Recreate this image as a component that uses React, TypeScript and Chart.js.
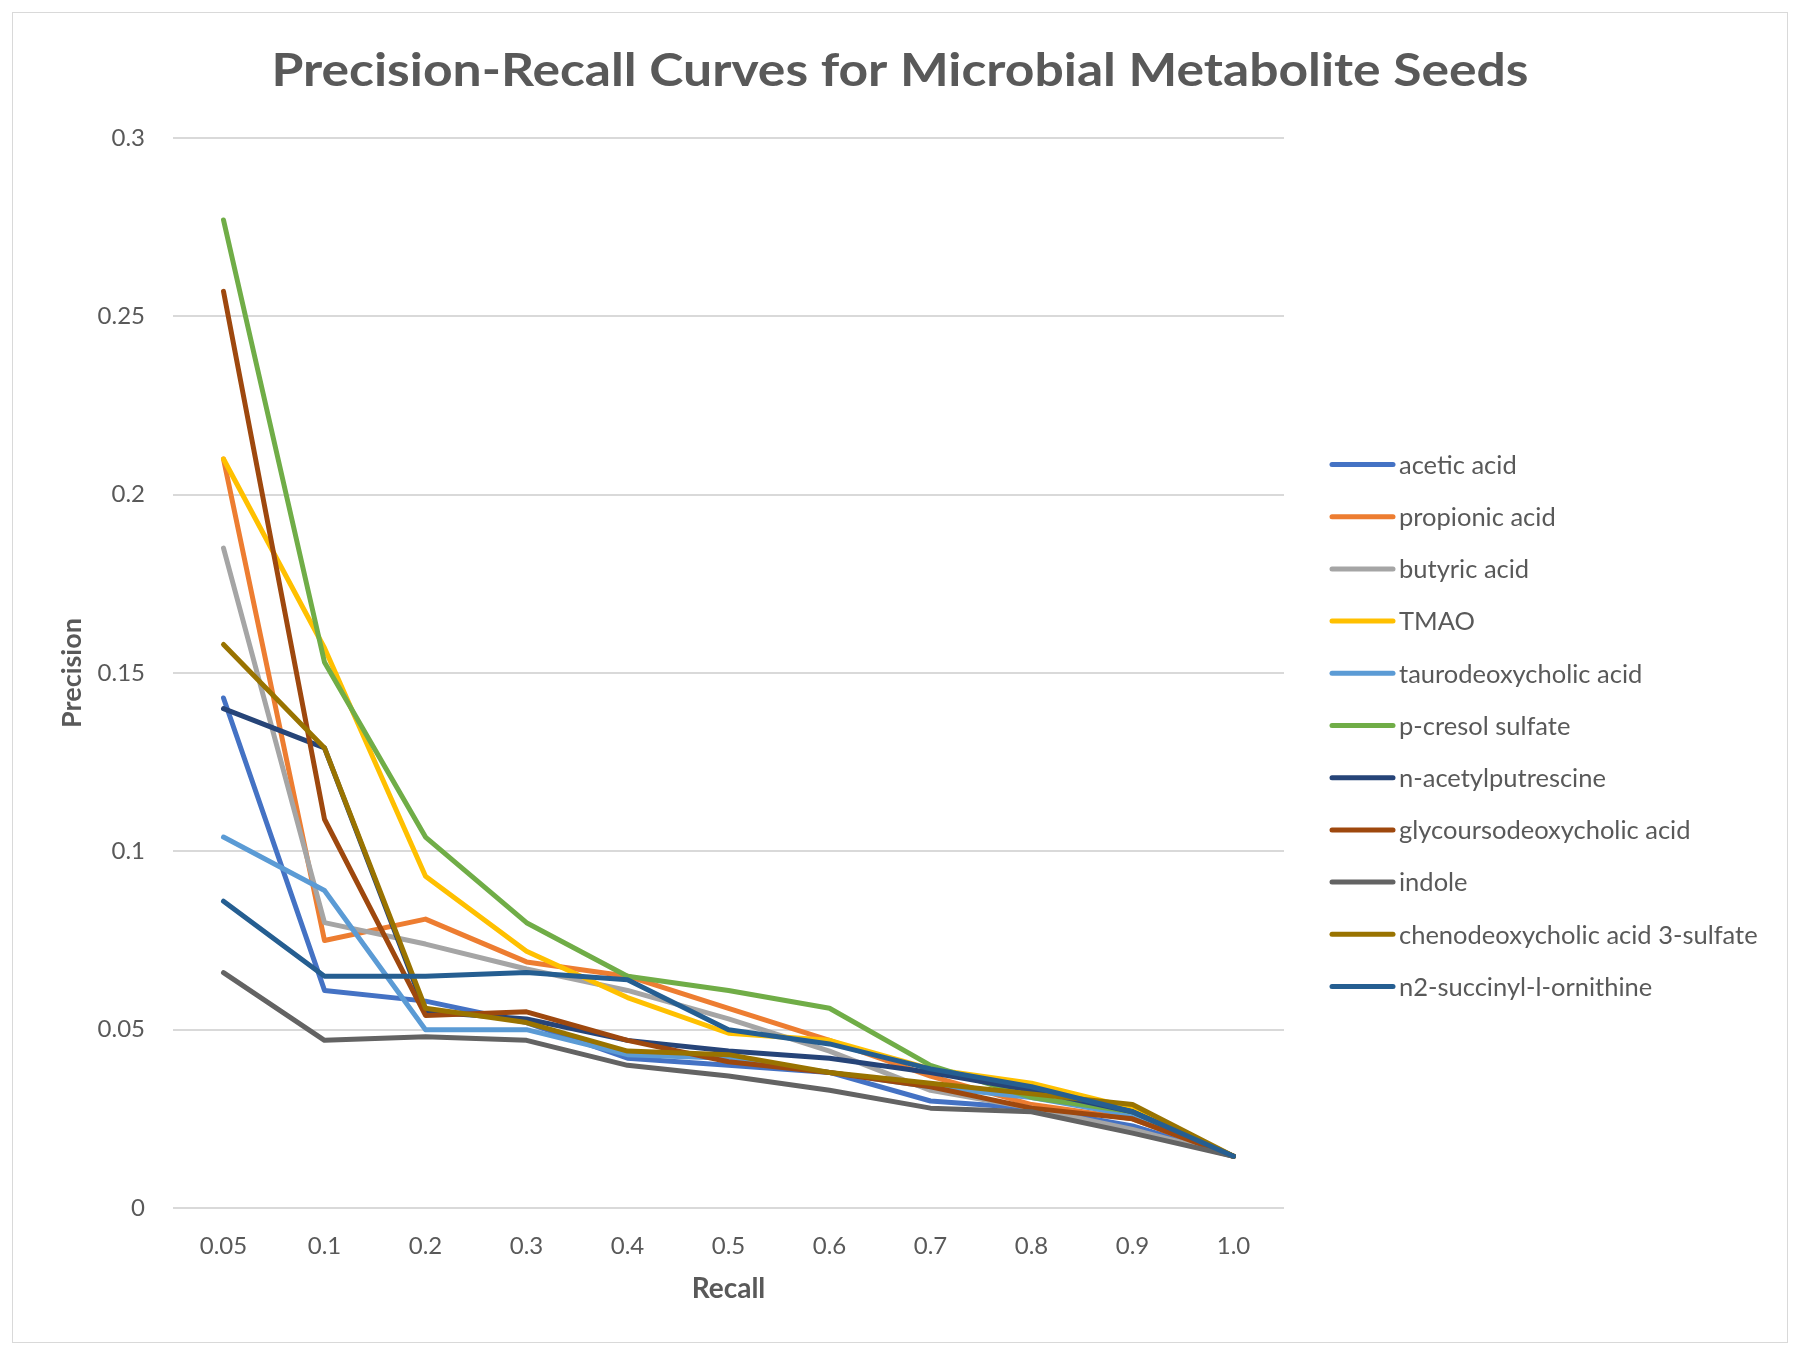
import React, { useEffect, useRef } from "react";
import { Chart, registerables } from "chart.js";

Chart.register(...registerables);

const RECALL_LABELS = ["0.05", "0.1", "0.2", "0.3", "0.4", "0.5", "0.6", "0.7", "0.8", "0.9", "1.0"];

const SERIES_NAMES = [
  "acetic acid",
  "propionic acid",
  "butyric acid",
  "TMAO",
  "taurodeoxycholic acid",
  "p-cresol sulfate",
  "n-acetylputrescine",
  "glycoursodeoxycholic acid",
  "indole",
  "chenodeoxycholic acid 3-sulfate",
  "n2-succinyl-l-ornithine",
];

const SERIES_COLORS = [
  "#4472C4",
  "#ED7D31",
  "#A5A5A5",
  "#FFC000",
  "#5B9BD5",
  "#70AD47",
  "#264478",
  "#9E480E",
  "#636363",
  "#997300",
  "#255E91",
];

const aceticAcid = [0.143, 0.061, 0.058, 0.052, 0.042, 0.040, 0.038, 0.030, 0.028, 0.023, 0.0145];
const propionicAcid = [0.210, 0.075, 0.081, 0.069, 0.065, 0.056, 0.047, 0.037, 0.029, 0.025, 0.0145];
const butyricAcid = [0.185, 0.080, 0.074, 0.067, 0.061, 0.053, 0.044, 0.033, 0.028, 0.022, 0.0145];
const tmao = [0.210, 0.157, 0.093, 0.072, 0.059, 0.049, 0.047, 0.039, 0.035, 0.028, 0.0145];
const taurodeoxycholicAcid = [0.104, 0.089, 0.050, 0.050, 0.043, 0.042, 0.038, 0.034, 0.031, 0.026, 0.0145];
const pCresolSulfate = [0.277, 0.153, 0.104, 0.080, 0.065, 0.061, 0.056, 0.040, 0.031, 0.027, 0.0145];
const nAcetylputrescine = [0.140, 0.129, 0.055, 0.053, 0.047, 0.044, 0.042, 0.038, 0.033, 0.027, 0.0145];
const glycoursodeoxycholicAcid = [0.257, 0.109, 0.054, 0.055, 0.047, 0.041, 0.038, 0.034, 0.028, 0.025, 0.0145];
const indole = [0.066, 0.047, 0.048, 0.047, 0.040, 0.037, 0.033, 0.028, 0.027, 0.021, 0.0145];
const chenodeoxycholicAcid3Sulfate = [0.158, 0.129, 0.056, 0.052, 0.044, 0.043, 0.038, 0.035, 0.032, 0.029, 0.0145];
const n2SuccinylLOrnithine = [0.086, 0.065, 0.065, 0.066, 0.064, 0.050, 0.046, 0.039, 0.034, 0.027, 0.0145];

const SERIES_VALUES = [
  aceticAcid,
  propionicAcid,
  butyricAcid,
  tmao,
  taurodeoxycholicAcid,
  pCresolSulfate,
  nAcetylputrescine,
  glycoursodeoxycholicAcid,
  indole,
  chenodeoxycholicAcid3Sulfate,
  n2SuccinylLOrnithine,
];

const TITLE = "Precision-Recall Curves for Microbial Metabolite Seeds";
const X_TITLE = "Recall";
const Y_TITLE = "Precision";

const TEXT_COLOR = "#595959";
const FONT = "Lato";

const titleAndLegendPlugin = {
  id: "titleAndLegend",
  afterDraw(chart: any) {
    const ctx = chart.ctx;
    // Title, centred on the whole chart box
    ctx.save();
    ctx.font = `bold 46px ${FONT}`;
    ctx.fillStyle = TEXT_COLOR;
    ctx.textAlign = "center";
    ctx.textBaseline = "middle";
    const w = ctx.measureText(TITLE).width;
    const targetW = 1257;
    const sx = targetW / w;
    ctx.translate(887, 58);
    ctx.scale(sx, 1);
    ctx.fillText(TITLE, 0, 0);
    ctx.restore();

    // Legend on the right
    const top = 451.5;
    const step = 52.2;
    const lineX0 = 1319;
    const lineX1 = 1380;
    const textX = 1386;
    ctx.save();
    ctx.font = `25.5px ${FONT}`;
    ctx.textBaseline = "middle";
    ctx.textAlign = "left";
    chart.data.datasets.forEach((ds: any, i: number) => {
      const y = top + i * step;
      ctx.strokeStyle = ds.borderColor;
      ctx.lineWidth = 5;
      ctx.lineCap = "round";
      ctx.beginPath();
      ctx.moveTo(lineX0, y);
      ctx.lineTo(lineX1, y);
      ctx.stroke();
      ctx.fillStyle = TEXT_COLOR;
      ctx.fillText(ds.label, textX, y + 1);
    });
    ctx.restore();
  },
};

export default function App() {
  const canvasRef = useRef<HTMLCanvasElement | null>(null);

  useEffect(() => {
    if (!canvasRef.current) return;
    const n = SERIES_NAMES.length;
    const chart = new Chart(canvasRef.current, {
      type: "line",
      data: {
        labels: RECALL_LABELS,
        datasets: SERIES_NAMES.map((name, i) => ({
          label: name,
          data: SERIES_VALUES[i],
          borderColor: SERIES_COLORS[i],
          backgroundColor: SERIES_COLORS[i],
          borderWidth: 5,
          pointRadius: 0,
          pointHoverRadius: 0,
          tension: 0,
          fill: false,
          borderCapStyle: "round",
          borderJoinStyle: "round",
          order: n - i,
        })),
      },
      options: {
        responsive: false,
        animation: false,
        layout: { padding: { left: 0, right: 503, top: 125, bottom: 0 } },
        plugins: {
          legend: { display: false },
          tooltip: { enabled: false },
          title: { display: false },
        },
        scales: {
          x: {
            type: "category",
            offset: true,
            grid: { display: false, drawTicks: false },
            border: { display: false },
            ticks: {
              color: TEXT_COLOR,
              font: { family: FONT, size: 24 },
              padding: 24,
              maxRotation: 0,
              autoSkip: false,
            },
            title: {
              display: true,
              text: X_TITLE,
              color: TEXT_COLOR,
              font: { family: FONT, size: 28, weight: "bold" },
              padding: { top: 0, bottom: 36 },
            },
            afterFit: (scale: any) => {
              scale.height = 134;
            },
          },
          y: {
            min: 0,
            max: 0.3,
            grid: { color: "#d9d9d9", lineWidth: 2, drawTicks: false },
            border: { display: false },
            ticks: {
              stepSize: 0.05,
              color: TEXT_COLOR,
              font: { family: FONT, size: 24 },
              padding: 28,
              callback: (v: any) => String(Number(Number(v).toFixed(2))),
            },
            title: {
              display: true,
              text: Y_TITLE,
              color: TEXT_COLOR,
              font: { family: FONT, size: 27, weight: "bold" },
              padding: { top: 43, bottom: 0 },
            },
            afterFit: (scale: any) => {
              scale.width = 160;
            },
          },
        },
      },
      plugins: [titleAndLegendPlugin],
    } as any);
    return () => chart.destroy();
  }, []);

  return (
    <div
      style={{
        position: "absolute",
        left: 12,
        top: 12,
        width: 1776,
        height: 1331,
        boxSizing: "border-box",
        border: "1px solid #d9d9d9",
        background: "#ffffff",
      }}
    >
      <canvas ref={canvasRef} width={1774} height={1329} style={{ display: "block" }} />
    </div>
  );
}
